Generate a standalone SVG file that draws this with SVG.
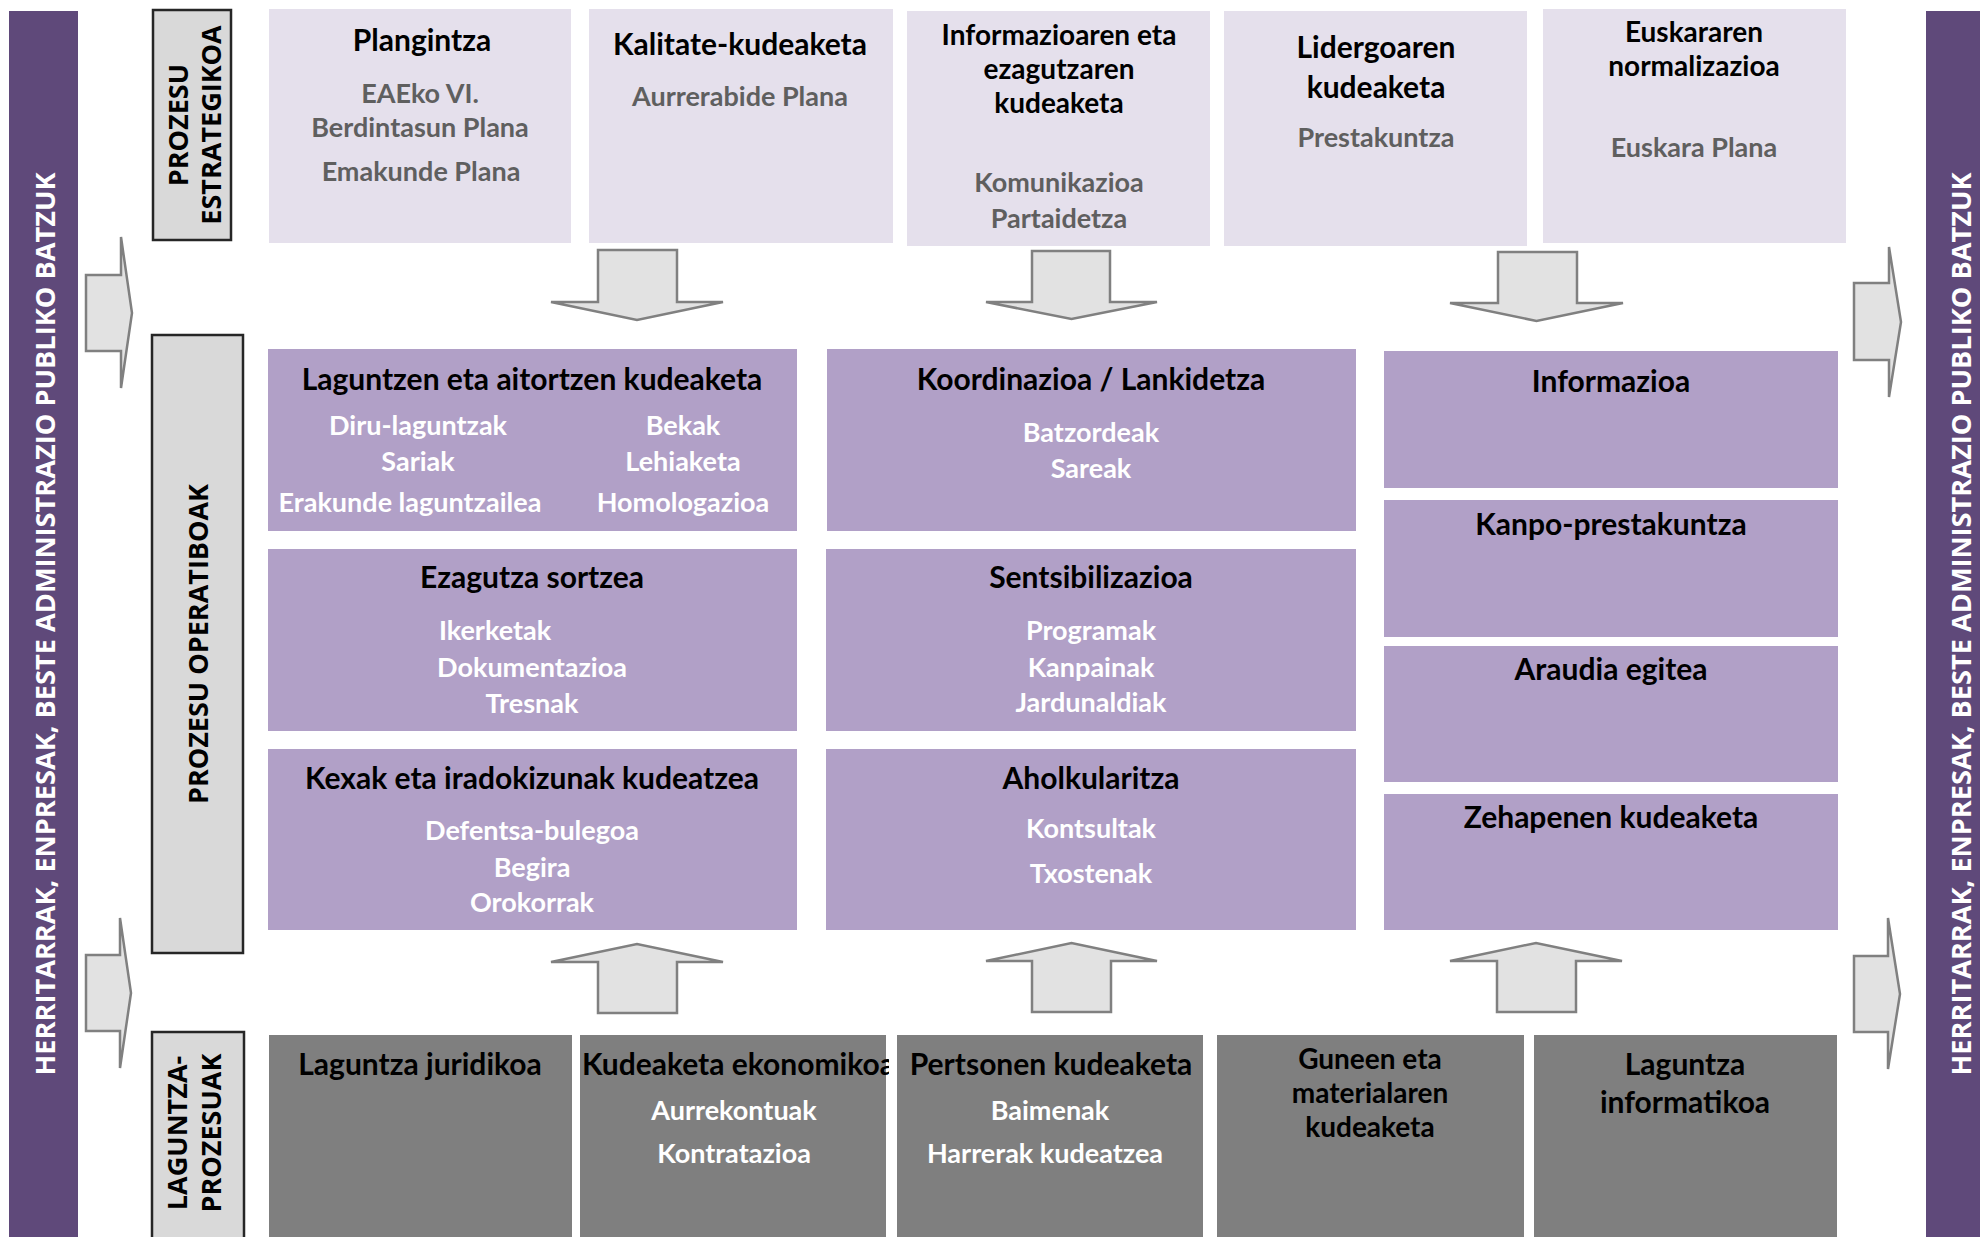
<svg xmlns="http://www.w3.org/2000/svg" width="1980" height="1237" viewBox="0 0 1980 1237">
<style>
.bar{fill:#5f497a}
.lbl{fill:#d9d9d9;stroke:#262626;stroke-width:2.5}
.strat{fill:#e5e0ec}
.oper{fill:#b1a0c7}
.supp{fill:#7f7f7f}
.arr{fill:#e2e2e2;stroke:#808080;stroke-width:2.5;stroke-linejoin:miter}
.side{font-family:"Open Sans","DejaVu Sans",sans-serif;font-weight:700;font-size:27px;fill:#ffffff;text-anchor:middle}
.vl{font-family:"Open Sans","DejaVu Sans",sans-serif;font-weight:700;font-size:27px;fill:#000000;text-anchor:middle}
.t{font-family:Lato,"Open Sans",sans-serif;font-weight:700;font-size:30px;fill:#000000;text-anchor:middle}
.tm{font-family:Lato,"Open Sans",sans-serif;font-weight:700;font-size:28px;fill:#000000;text-anchor:middle}
.sg{font-family:Lato,"Open Sans",sans-serif;font-weight:700;font-size:27px;fill:#5f5f5f;text-anchor:middle}
.sw{font-family:Lato,"Open Sans",sans-serif;font-weight:700;font-size:27px;fill:#ffffff;text-anchor:middle}
</style>
<defs>
<clipPath id="clipEko"><rect x="580" y="1035" width="309" height="210"/></clipPath>
</defs>
<rect width="1980" height="1237" fill="#ffffff"/>

<g id="side-left">
<rect class="bar" x="9" y="11" width="69" height="1240"/>
<text class="side" transform="translate(55,624) rotate(-90)" textLength="903" lengthAdjust="spacingAndGlyphs">HERRITARRAK, ENPRESAK, BESTE ADMINISTRAZIO PUBLIKO BATZUK</text>
</g>
<g id="side-right">
<rect class="bar" x="1926" y="11" width="60" height="1240"/>
<text class="side" transform="translate(1971,624) rotate(-90)" textLength="903" lengthAdjust="spacingAndGlyphs">HERRITARRAK, ENPRESAK, BESTE ADMINISTRAZIO PUBLIKO BATZUK</text>
</g>

<g id="label-strategic">
<rect class="lbl" x="153" y="10" width="78" height="230"/>
<text class="vl" transform="translate(188,125) rotate(-90)">PROZESU</text>
<text class="vl" transform="translate(221,125) rotate(-90)">ESTRATEGIKOA</text>
</g>
<g id="label-operative">
<rect class="lbl" x="152" y="335" width="91" height="618"/>
<text class="vl" transform="translate(208,644) rotate(-90)">PROZESU OPERATIBOAK</text>
</g>
<g id="label-support">
<rect class="lbl" x="152" y="1032" width="92" height="215"/>
<text class="vl" transform="translate(187,1133) rotate(-90)">LAGUNTZA-</text>
<text class="vl" transform="translate(221,1133) rotate(-90)">PROZESUAK</text>
</g>

<g id="plangintza">
<rect class="strat" x="269" y="9" width="302" height="234"/>
<text class="t" x="422" y="51">Plangintza</text>
<text class="sg" x="420" y="103">EAEko VI.</text>
<text class="sg" x="420" y="137">Berdintasun Plana</text>
<text class="sg" x="421" y="181">Emakunde Plana</text>
</g>
<g id="kalitate">
<rect class="strat" x="589" y="9" width="304" height="234"/>
<text class="t" x="740" y="55">Kalitate-kudeaketa</text>
<text class="sg" x="740" y="106">Aurrerabide Plana</text>
</g>
<g id="informazioaren">
<rect class="strat" x="907" y="11" width="303" height="235"/>
<text class="tm"><tspan x="1059" y="45">Informazioaren eta</tspan><tspan x="1059" y="79">ezagutzaren</tspan><tspan x="1059" y="113">kudeaketa</tspan></text>
<text class="sg"><tspan x="1059" y="192">Komunikazioa</tspan><tspan x="1059" y="228">Partaidetza</tspan></text>
</g>
<g id="lidergoaren">
<rect class="strat" x="1224" y="11" width="303" height="235"/>
<text class="t"><tspan x="1376" y="58">Lidergoaren</tspan><tspan x="1376" y="98">kudeaketa</tspan></text>
<text class="sg" x="1376" y="147">Prestakuntza</text>
</g>
<g id="euskararen">
<rect class="strat" x="1543" y="9" width="303" height="234"/>
<text class="tm"><tspan x="1694" y="42">Euskararen</tspan><tspan x="1694" y="76">normalizazioa</tspan></text>
<text class="sg" x="1694" y="157">Euskara Plana</text>
</g>

<g id="laguntzen">
<rect class="oper" x="268" y="349" width="529" height="182"/>
<text class="t" x="532" y="390">Laguntzen eta aitortzen kudeaketa</text>
<text class="sw" x="418" y="435">Diru-laguntzak</text>
<text class="sw" x="418" y="471">Sariak</text>
<text class="sw" x="410" y="512">Erakunde laguntzailea</text>
<text class="sw" x="683" y="435">Bekak</text>
<text class="sw" x="683" y="471">Lehiaketa</text>
<text class="sw" x="683" y="512">Homologazioa</text>
</g>
<g id="ezagutza">
<rect class="oper" x="268" y="549" width="529" height="182"/>
<text class="t" x="532" y="588">Ezagutza sortzea</text>
<text class="sw" x="495" y="640">Ikerketak</text>
<text class="sw" x="532" y="677">Dokumentazioa</text>
<text class="sw" x="532" y="713">Tresnak</text>
</g>
<g id="kexak">
<rect class="oper" x="268" y="749" width="529" height="181"/>
<text class="t" x="532" y="789">Kexak eta iradokizunak kudeatzea</text>
<text class="sw" x="532" y="840">Defentsa-bulegoa</text>
<text class="sw" x="532" y="877">Begira</text>
<text class="sw" x="532" y="912">Orokorrak</text>
</g>
<g id="koordinazioa">
<rect class="oper" x="827" y="349" width="529" height="182"/>
<text class="t" x="1091" y="390">Koordinazioa / Lankidetza</text>
<text class="sw" x="1091" y="442">Batzordeak</text>
<text class="sw" x="1091" y="478">Sareak</text>
</g>
<g id="sentsibilizazioa">
<rect class="oper" x="826" y="549" width="530" height="182"/>
<text class="t" x="1091" y="588">Sentsibilizazioa</text>
<text class="sw" x="1091" y="640">Programak</text>
<text class="sw" x="1091" y="677">Kanpainak</text>
<text class="sw" x="1091" y="712">Jardunaldiak</text>
</g>
<g id="aholkularitza">
<rect class="oper" x="826" y="749" width="530" height="181"/>
<text class="t" x="1091" y="789">Aholkularitza</text>
<text class="sw" x="1091" y="838">Kontsultak</text>
<text class="sw" x="1091" y="883">Txostenak</text>
</g>
<g id="informazioa">
<rect class="oper" x="1384" y="351" width="454" height="137"/>
<text class="t" x="1611" y="392">Informazioa</text>
</g>
<g id="kanpo-prestakuntza">
<rect class="oper" x="1384" y="500" width="454" height="137"/>
<text class="t" x="1611" y="535">Kanpo-prestakuntza</text>
</g>
<g id="araudia">
<rect class="oper" x="1384" y="646" width="454" height="136"/>
<text class="t" x="1611" y="680">Araudia egitea</text>
</g>
<g id="zehapenen">
<rect class="oper" x="1384" y="794" width="454" height="136"/>
<text class="t" x="1611" y="828">Zehapenen kudeaketa</text>
</g>

<g id="laguntza-juridikoa">
<rect class="supp" x="269" y="1035" width="303" height="210"/>
<text class="t" x="420" y="1075">Laguntza juridikoa</text>
</g>
<g id="kudeaketa-ekonomikoa">
<rect class="supp" x="580" y="1035" width="306" height="210"/>
<text class="t" x="582" y="1075" style="text-anchor:start" clip-path="url(#clipEko)">Kudeaketa ekonomikoa</text>
<text class="sw" x="734" y="1120">Aurrekontuak</text>
<text class="sw" x="734" y="1163">Kontratazioa</text>
</g>
<g id="pertsonen">
<rect class="supp" x="897" y="1035" width="306" height="210"/>
<text class="t" x="1051" y="1075">Pertsonen kudeaketa</text>
<text class="sw" x="1050" y="1120">Baimenak</text>
<text class="sw" x="1045" y="1163">Harrerak kudeatzea</text>
</g>
<g id="guneen">
<rect class="supp" x="1217" y="1035" width="307" height="210"/>
<text class="tm"><tspan x="1370" y="1069">Guneen eta</tspan><tspan x="1370" y="1103">materialaren</tspan><tspan x="1370" y="1137">kudeaketa</tspan></text>
</g>
<g id="laguntza-informatikoa">
<rect class="supp" x="1534" y="1035" width="303" height="210"/>
<text class="t"><tspan x="1685" y="1075">Laguntza</tspan><tspan x="1685" y="1113">informatikoa</tspan></text>
</g>

<g id="connectors">
<polygon class="arr" points="598,250 677,250 677,302 723,302 637,320 551,302 598,302"/>
<polygon class="arr" points="1032,251 1110,251 1110,302 1157,302 1071.5,319 986,302 1032,302"/>
<polygon class="arr" points="1498,252 1577,252 1577,303 1623,303 1536.5,321 1450,303 1498,303"/>
<polygon class="arr" points="598,1013 677,1013 677,962 723,962 637,944 551,962 598,962"/>
<polygon class="arr" points="1032,1012 1111,1012 1111,961 1157,961 1071.5,943 986,961 1032,961"/>
<polygon class="arr" points="1497,1012 1576,1012 1576,961 1622,961 1536,943 1450,961 1497,961"/>
<polygon class="arr" points="86,275 121,275 121,237 132,313 121,388 121,351 86,351"/>
<polygon class="arr" points="86,955 120,955 120,918 131,993 120,1068 120,1031 86,1031"/>
<polygon class="arr" points="1854,283 1889,283 1889,247 1901,322 1889,397 1889,360 1854,360"/>
<polygon class="arr" points="1854,956 1888,956 1888,918 1900,994 1888,1069 1888,1032 1854,1032"/>
</g>
</svg>
